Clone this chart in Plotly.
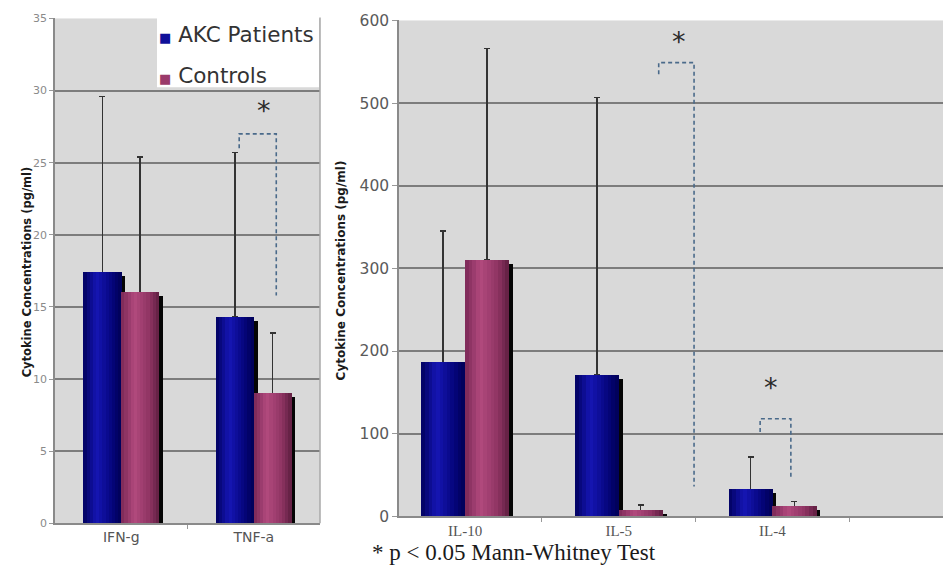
import plotly.graph_objects as go

# ---------------- data ----------------
left_categories = ["IFN-g", "TNF-a"]
left_akc = [17.4, 14.3]
left_akc_err_top = [29.6, 25.7]
left_ctrl = [16.0, 9.0]
left_ctrl_err_top = [25.4, 13.2]

right_categories = ["IL-10", "IL-5", "IL-4"]
right_akc = [186, 171, 32]
right_akc_err_top = [345, 507, 72]
right_ctrl = [310, 7, 12]
right_ctrl_err_top = [566, 14, 18]

left_ticks = [0, 5, 10, 15, 20, 25, 30, 35]
right_ticks = [0, 100, 200, 300, 400, 500, 600]

# significance brackets (x in category-index units, y in data units)
left_bracket_x = [0.89, 0.89, 1.17, 1.17]
left_bracket_y = [26.0, 27.0, 27.0, 15.8]
left_star = (1.08, 28.6)
right_bracket_x = [1.26, 1.26, 1.49, 1.49]
right_bracket_y = [535, 549, 549, 36]
right_star = (1.39, 574)
right_bracket2_x = [1.92, 1.92, 2.12, 2.12]
right_bracket2_y = [102, 118, 118, 48]
right_star2 = (1.99, 156)

series_names = ["AKC Patients", "Controls"]
note_text = "* p < 0.05 Mann-Whitney Test"
y_title = "Cytokine Concentrations (pg/ml)"

# ---------------- style ----------------
W, H = 943, 567
BAR_W = 0.285
N_STRIPS = 12
blue_profile = [(0.0, (0, 0, 95)), (0.35, (22, 22, 180)), (0.75, (5, 5, 124)), (1.0, (0, 0, 85))]
mag_profile = [(0.0, (122, 40, 86)), (0.35, (178, 74, 126)), (0.75, (142, 52, 98)), (1.0, (95, 30, 65))]


def py(y_px):
    """paper y for a target pixel row (compensates the capture's vertical fit)."""
    y_int = (y_px - 7.5) / 0.9724
    return 1 - y_int / H


def interp(profile, t):
    for (t0, c0), (t1, c1) in zip(profile[:-1], profile[1:]):
        if t0 <= t <= t1:
            f = (t - t0) / (t1 - t0) if t1 > t0 else 0
            return "rgb(%d,%d,%d)" % tuple(round(a + (b - a) * f) for a, b in zip(c0, c1))
    return "rgb(%d,%d,%d)" % profile[-1][1]


fig = go.Figure()


def add_series(cats, vals, err_top, xa, ya, offset, profile, px_per_unit, shadow_dx):
    xs = list(range(len(cats)))
    fig.add_trace(go.Bar(
        x=xs, y=vals, xaxis=xa, yaxis=ya, offset=offset, width=BAR_W,
        marker=dict(color="rgba(0,0,0,0)", line=dict(width=0)),
        error_y=dict(type="data", symmetric=False,
                     array=[e - v for e, v in zip(err_top, vals)],
                     arrayminus=[0] * len(vals),
                     color="#333333", thickness=1.6, width=3),
        showlegend=False, hoverinfo="skip"))
    drop = 4 / px_per_unit
    fig.add_trace(go.Bar(
        x=xs, y=[max(v - drop, 0) for v in vals], xaxis=xa, yaxis=ya,
        offset=offset + shadow_dx, width=BAR_W,
        marker=dict(color="#050505", line=dict(width=0)),
        showlegend=False, hoverinfo="skip"))
    sw = BAR_W / N_STRIPS
    for i in range(N_STRIPS):
        t = (i + 0.5) / N_STRIPS
        fig.add_trace(go.Bar(
            x=xs, y=vals, xaxis=xa, yaxis=ya,
            offset=offset + i * sw, width=sw * 1.08,
            marker=dict(color=interp(profile, t), line=dict(width=0)),
            showlegend=False, hoverinfo="skip"))


add_series(left_categories, left_akc, left_akc_err_top, "x", "y", -BAR_W, blue_profile, 14.5, 0.03)
add_series(left_categories, left_ctrl, left_ctrl_err_top, "x", "y", 0.0, mag_profile, 14.5, 0.03)
add_series(right_categories, right_akc, right_akc_err_top, "x2", "y2", -BAR_W, blue_profile, 0.83, 0.026)
add_series(right_categories, right_ctrl, right_ctrl_err_top, "x2", "y2", 0.0, mag_profile, 0.83, 0.026)

bracket_line = dict(color="#4a6a8a", width=1.6, dash="4px,3px")
for bx, by, xa, ya in [
    (left_bracket_x, left_bracket_y, "x", "y"),
    (right_bracket_x, right_bracket_y, "x2", "y2"),
    (right_bracket2_x, right_bracket2_y, "x2", "y2"),
]:
    fig.add_trace(go.Scatter(x=bx, y=by, xaxis=xa, yaxis=ya, mode="lines",
                             line=bracket_line, showlegend=False, hoverinfo="skip"))

grid_col = "#7d7d7d"
ann = []
for (sx, sy), xr, yr in [(left_star, "x", "y"), (right_star, "x2", "y2"), (right_star2, "x2", "y2")]:
    ann.append(dict(x=sx, y=sy, xref=xr, yref=yr, text="*", showarrow=False,
                    font=dict(family="DejaVu Sans", size=27, color="#2a2a2a")))

ann.append(dict(x=18 / W, y=py(272), xref="paper", yref="paper", text="<b>%s</b>" % y_title,
                textangle=-90, showarrow=False, font=dict(family="DejaVu Sans", size=11.5, color="#1a1a1a")))
ann.append(dict(x=341 / W, y=py(270), xref="paper", yref="paper", text="<b>%s</b>" % y_title,
                textangle=-90, showarrow=False, font=dict(family="DejaVu Sans", size=12, color="#1a1a1a")))
ann.append(dict(x=370 / W, y=py(553), xref="paper", yref="paper", text=note_text,
                xanchor="left", yanchor="middle", showarrow=False,
                font=dict(family="Liberation Serif", size=23, color="#1a1a1a")))
ann.append(dict(x=157 / W, y=py(33), xref="paper", yref="paper",
                text="<span style='color:#10109a;font-size:13px'>■</span> %s" % series_names[0],
                xanchor="left", yanchor="middle", showarrow=False,
                font=dict(family="DejaVu Sans", size=21.5, color="#333333")))
ann.append(dict(x=157 / W, y=py(74), xref="paper", yref="paper",
                text="<span style='color:#9a3a6a;font-size:13px'>■</span> %s" % series_names[1],
                xanchor="left", yanchor="middle", showarrow=False,
                font=dict(family="DejaVu Sans", size=21.5, color="#333333")))

shapes = [
    dict(type="rect", xref="paper", yref="paper", x0=157 / W, x1=319 / W, y0=py(86), y1=py(16),
         fillcolor="white", line=dict(width=0), layer="above"),
    dict(type="line", xref="paper", yref="paper", x0=320 / W, x1=320 / W, y0=py(524), y1=py(16),
         line=dict(color="#a8a8a8", width=1.5)),
]

axis_line = dict(showline=True, linecolor="#8a8a8a", linewidth=1.5)
fig.update_layout(
    width=W, height=H, margin=dict(l=0, r=0, t=0, b=0),
    paper_bgcolor="white", plot_bgcolor="#d9d9d9",
    barmode="overlay", bargap=0, showlegend=False,
    annotations=ann, shapes=shapes,
    xaxis=dict(domain=[55 / W, 320 / W], range=[-0.5, 1.5],
               tickvals=list(range(len(left_categories))), ticktext=left_categories,
               showgrid=False, zeroline=False, ticks="",
               minor=dict(tickvals=[0.5], ticks="outside", ticklen=4, tickcolor="#999999", showgrid=False),
               tickfont=dict(family="DejaVu Sans", size=14, color="#555555"), anchor="y", **axis_line),
    yaxis=dict(domain=[py(524), py(17)], range=[0, 35], tickvals=left_ticks,
               showgrid=True, gridcolor=grid_col, gridwidth=1.5, zeroline=False,
               ticks="outside", ticklen=4, tickcolor="#999999",
               tickfont=dict(family="DejaVu Sans", size=11, color="#8a8a8a"), anchor="x", **axis_line),
    xaxis2=dict(domain=[399 / W, 1.0], range=[-0.43, 3.11],
                tickvals=list(range(len(right_categories))), ticktext=right_categories,
                showgrid=False, zeroline=False, ticks="",
                minor=dict(tickvals=[0.5, 1.5, 2.5], ticks="outside", ticklen=4, tickcolor="#999999", showgrid=False),
                tickfont=dict(family="Liberation Serif", size=15, color="#555555"), anchor="y2", **axis_line),
    yaxis2=dict(domain=[py(517), py(19)], range=[0, 600], tickvals=right_ticks,
                showgrid=True, gridcolor=grid_col, gridwidth=1.5, zeroline=False,
                ticks="outside", ticklen=5, tickcolor="#999999",
                tickfont=dict(family="DejaVu Sans", size=15.5, color="#5a5a5a"), anchor="x2", **axis_line),
)

post = (
    "document.documentElement.style.margin='0';"
    "document.body.style.margin='0';document.body.style.overflow='hidden';"
    "var d=document.getElementsByClassName('plotly-graph-div')[0];"
    "d.style.position='fixed';d.style.top='0px';d.style.left='0px';"
)
fig.write_html("out.html", post_script=post, config={"displayModeBar": False})
